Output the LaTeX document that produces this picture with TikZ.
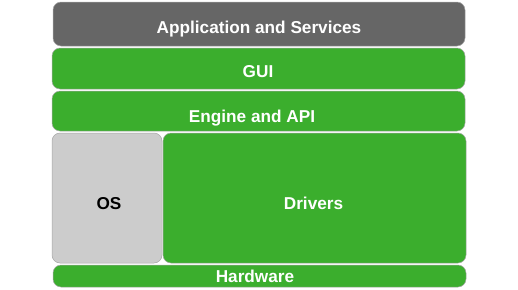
\documentclass[tikz,border=0pt]{standalone}
\usepackage{fontspec}
\setmainfont{Liberation Sans}
\begin{document}
\begin{tikzpicture}[x=1pt,y=-1pt,
  layer/.style={draw=black!35,line width=0.5pt,rounded corners=8pt},
  lbl/.style={font=\bfseries\fontsize{17.2}{19}\selectfont,text=white,anchor=base,inner sep=0pt},
  greenbox/.style={layer,fill=appgreen},
]
\definecolor{appgreen}{HTML}{3BAE2D}
\definecolor{darkgraybox}{HTML}{666666}
\definecolor{lightgraybox}{HTML}{CCCCCC}
\useasboundingbox (0,0) rectangle (518,289);
\draw[layer,fill=darkgraybox] (53,2) rectangle (465,46);
\node[lbl] (app) at (259,33) {Application and Services};
\draw[greenbox] (52,48) rectangle (465,89);
\node[lbl] (gui) at (258,77) {GUI};
\draw[greenbox] (52,91) rectangle (465,131);
\node[lbl] (eng) at (252,122) {Engine and API};
\draw[layer,fill=lightgraybox] (52,133) rectangle (162,263);
\node[lbl,text=black] (os) at (109,209.5) {OS};
\draw[greenbox] (163,133) rectangle (466,263);
\node[lbl] (drv) at (313.5,209.5) {Drivers};
\draw[greenbox] (53,265) rectangle (466,287);
\node[lbl] (hw) at (255,282) {Hardware};
\end{tikzpicture}
\end{document}
